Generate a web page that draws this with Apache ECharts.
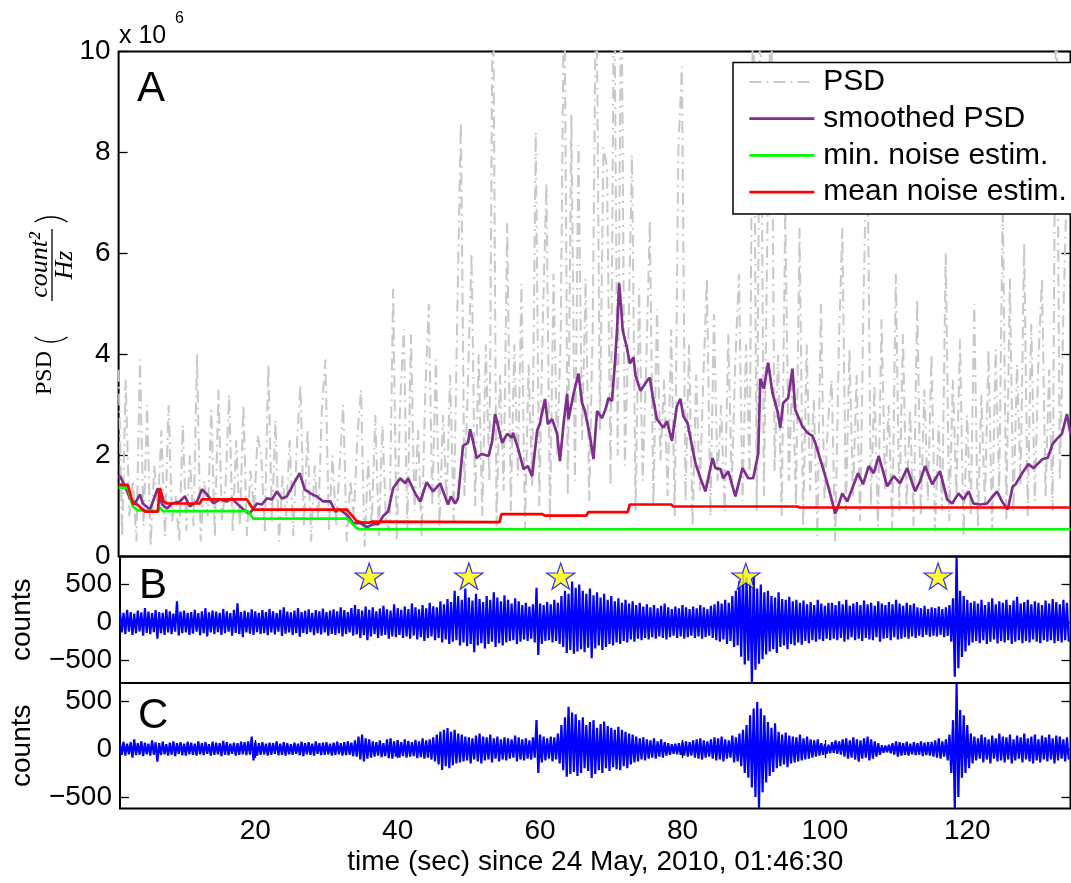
<!DOCTYPE html>
<html><head><meta charset="utf-8">
<script src="https://cdn.jsdelivr.net/npm/echarts@6/dist/echarts.min.js"></script>
<style>html,body{margin:0;padding:0;background:#fff}#c{width:1071px;height:883px}</style>
</head><body><div id="c"></div>
<script>
// ---------- DATA ----------
const xTicks = [20, 40, 60, 80, 100, 120];
const psdTicks = [0, 2, 4, 6, 8, 10];
const traceTicks = [-500, 0, 500];
const gridT0 = 1, gridDT = 0.5; // sampling grid of the PSD and trace arrays (sec)

// raw PSD (x 1e6 count^2/Hz)
const psd = [
3.7,0.4,3.5,0.8,1.5,0.3,3.9,0.6,3.0,0.2,1.8,0.9,2.5,0.4,3.0,0.7,1.2,0.3,2.6,0.5,
2.0,0.6,4.0,0.3,1.5,0.8,2.9,0.4,3.3,0.7,1.4,3.2,0.5,2.3,0.6,3.0,0.4,1.7,0.9,2.4,
2.0,0.5,3.8,0.7,2.7,0.3,1.6,0.8,2.3,0.4,2.2,3.4,0.6,2.5,0.3,1.8,0.7,2.9,3.9,0.5,
2.0,0.6,1.8,3.0,0.3,1.5,0.8,2.4,3.3,0.2,1.9,0.6,2.8,0.4,2.6,0.7,0.5,5.3,0.3,3.1,
4.5,0.5,4.4,0.9,2.5,0.4,3.2,5.0,1.0,3.9,0.6,2.8,1.1,3.6,0.7,4.8,8.6,1.2,3.5,6.0,
1.0,4.0,0.8,4.2,1.5,12,0.6,3.6,1.3,6.6,0.9,4.2,1.6,5.4,0.5,3.8,1.4,8.4,1.0,4.7,
7.4,0.7,5.6,2.0,4.3,12,1.2,8.75,1.5,8.15,2.3,5.5,1.1,4.6,12,2.5,8.1,7.7,1.4,12,
2.0,12,1.8,4.4,7.95,0.9,5.3,1.5,3.8,6.66,1.0,4.9,1.9,3.5,1.2,4.5,0.8,8.05,9.7,1.1,
4.2,0.6,3.6,1.3,3.5,5.5,0.8,4.8,1.5,3.0,0.9,4.4,1.4,3.9,5.6,1.1,4.2,1.6,12,0.9,
12,1.2,6.5,12,1.7,4.0,0.8,6.9,1.5,3.7,1.0,6.5,0.6,4.2,1.3,3.1,0.4,5.0,1.1,2.7,
3.5,0.3,4.1,6.5,0.9,4.1,1.2,3.6,0.7,5.3,8.6,1.0,3.4,0.6,4.7,1.3,3.0,0.5,5.6,0.9,
4.4,1.0,2.9,0.6,5.1,0.8,3.3,1.1,4.0,0.5,2.6,0.9,6.0,0.7,3.5,1.2,4.3,0.4,2.8,0.8,
5.0,0.6,3.2,1.0,4.1,0.5,4.1,1.3,7.0,0.7,5.5,0.9,3.8,1.4,6.2,0.8,4.6,1.1,3.9,5.5,
1.2,3.7,0.9,12,1.5,4.8,7.5];

// smoothed PSD (x 1e6)
const smoothT = [1.0,1.2,1.9,2.6,3.3,4.0,4.4,5.4,6.5,7.1,7.8,8.5,9.6,10.3,11.0,12.0,12.7,13.4,14.3,15.2,16.2,16.9,17.6,18.5,19.4,20.4,21.1,21.8,22.5,23.2,23.9,24.6,25.5,26.4,27.1,27.9,28.8,29.7,30.7,31.4,32.0,33.0,33.9,34.9,35.8,36.7,37.4,38.1,38.8,39.5,40.5,41.2,41.6,42.6,43.3,44.2,45.1,46.1,47.2,47.6,48.2,48.6,49.3,50.0,50.3,50.7,51.2,51.9,52.9,53.4,53.8,54.8,55.5,56.2,56.3,57.0,57.8,58.4,59.0,59.7,60.1,60.8,61.2,61.8,62.5,62.9,63.4,63.9,64.1,64.8,65.5,66.0,66.4,67.1,67.6,68.1,68.8,69.3,69.7,70.2,70.6,70.9,71.2,71.5,71.7,72.3,72.7,73.2,73.5,74.2,75.1,75.5,75.9,76.5,77.4,77.9,78.6,79.3,79.8,80.2,80.8,81.5,81.9,82.6,83.3,84.3,84.7,85.4,85.8,86.5,87.5,88.5,89.3,90.0,90.7,91.0,91.5,92.1,92.7,93.4,93.8,94.2,94.9,95.5,95.9,96.9,97.6,98.3,98.7,99.7,100.6,101.5,101.8,102.5,103.2,103.9,104.7,105.4,106.2,106.9,107.6,108.8,109.7,110.6,111.6,112.7,113.4,114.1,115.1,116.2,117.2,117.9,118.8,119.5,120.2,120.9,121.9,122.8,124.2,124.9,125.7,126.4,126.8,127.9,128.6,129.3,130.6,131.3,132.0,132.6,133.3,134.0,134.5];
const smoothV = [1.55,1.59,1.39,1.15,1.05,1.23,1.05,0.93,1.35,1.03,0.95,1.05,1.09,1.19,0.99,1.09,1.33,1.23,1.05,1.13,1.09,1.15,1.05,0.93,0.85,1.05,1.03,1.15,1.13,1.29,1.15,1.19,1.43,1.65,1.33,1.25,1.19,1.09,1.09,0.89,0.93,0.83,0.66,0.66,0.58,0.64,0.64,0.80,0.89,1.35,1.55,1.45,1.55,1.25,1.09,1.47,1.29,1.45,1.03,1.19,1.05,1.15,2.19,2.25,2.52,2.29,1.95,2.03,1.99,2.29,2.82,2.25,2.43,2.35,2.45,2.15,1.73,1.79,1.59,2.49,2.64,3.12,2.62,2.72,2.43,1.89,2.62,3.22,2.72,3.22,3.62,3.04,2.88,2.39,1.93,2.88,2.74,2.92,3.14,3.08,3.82,4.47,5.41,4.90,4.47,4.13,3.82,3.94,3.58,3.28,3.48,3.54,3.18,2.72,2.55,2.68,2.29,2.98,3.12,2.78,2.64,2.13,1.85,1.55,1.29,1.95,1.75,1.73,1.55,1.69,1.19,1.75,1.55,1.55,2.03,3.52,3.32,3.84,3.24,2.88,2.55,3.04,3.14,3.72,2.90,2.58,2.45,2.39,2.25,1.79,1.35,0.85,0.95,1.25,1.09,1.35,1.65,1.43,1.79,1.65,1.99,1.39,1.59,1.45,1.75,1.29,1.49,1.79,1.43,1.69,1.13,1.05,1.25,1.13,1.29,1.05,1.03,1.05,1.29,1.09,0.93,1.39,1.43,1.69,1.83,1.75,1.93,1.95,2.23,2.33,2.43,2.82,2.43];

// minimum noise estimate (x 1e6)
const minNoiseT = [1.0,2.3,3.0,3.6,6.5,6.8,7.2,19.1,19.9,33.1,34.4,34.8,134.5];
const minNoiseV = [1.37,1.36,0.99,0.92,0.90,0.97,0.90,0.90,0.75,0.75,0.56,0.54,0.54];

// mean noise estimate (x 1e6)
const meanNoiseT = [1.0,2.3,3.0,3.6,4.7,6.5,6.8,7.3,7.8,12.4,12.7,19.0,19.9,33.0,34.4,35.2,36.2,36.5,54.4,54.7,60.4,60.8,66.6,66.9,72.4,72.7,78.5,78.8,96.2,96.5,134.5];
const meanNoiseV = [1.42,1.42,1.05,1.03,0.89,0.89,1.36,1.09,1.05,1.05,1.13,1.13,0.93,0.93,0.70,0.67,0.67,0.69,0.68,0.84,0.84,0.81,0.81,0.88,0.88,1.03,1.03,0.99,0.99,0.97,0.97];

// trace B (raw): positive / negative excursions per half second
const bMax = [
150,130,170,140,120,160,135,190,145,125,165,140,130,175,150,120,280,145,160,130,
140,170,125,150,190,135,160,145,130,180,150,125,170,255,140,160,135,175,150,130,
165,140,180,150,125,170,200,145,135,160,190,140,155,175,130,165,150,185,140,160,
175,150,200,165,140,190,230,180,160,210,170,200,150,185,220,175,160,240,190,170,
210,180,250,200,175,230,190,260,215,200,280,240,310,270,420,350,300,450,330,290,
380,310,270,350,300,400,330,280,360,300,250,320,280,230,260,210,240,460,250,230,
270,240,300,260,350,420,380,540,460,500,420,380,450,360,400,330,380,300,350,280,
320,260,300,250,280,230,260,210,240,200,230,190,220,250,200,180,210,190,230,200,
180,210,190,230,200,180,220,240,280,250,300,260,350,420,550,656,600,520,620,450,
500,400,420,350,330,400,310,300,340,280,300,260,290,240,270,230,300,250,220,260,
260,230,280,240,300,220,250,270,230,290,240,260,220,280,250,230,270,240,300,250,
220,260,230,250,200,190,220,180,200,190,210,180,200,230,320,870,420,350,300,260,
280,250,300,230,270,320,240,280,260,300,230,290,340,250,270,300,240,280,260,230,
290,250,310,270,240,300,260];
const bMin = [
-130,-150,-120,-160,-140,-115,-170,-135,-150,-125,-210,-140,-160,-130,-150,-120,-170,-140,-130,-160,
-145,-120,-165,-140,-180,-130,-150,-125,-160,-140,-120,-170,-135,-150,-190,-130,-145,-160,-125,-150,
-140,-165,-130,-155,-120,-175,-145,-130,-160,-140,-185,-135,-150,-125,-165,-140,-155,-130,-170,-150,
-160,-140,-180,-150,-130,-170,-155,-200,-165,-230,-180,-150,-200,-170,-160,-210,-180,-190,-160,-200,
-180,-210,-170,-220,-190,-240,-200,-180,-230,-200,-260,-220,-280,-250,-230,-300,-260,-310,-280,-390,
-300,-270,-340,-280,-250,-320,-270,-300,-260,-240,-230,-280,-250,-220,-240,-210,-260,-425,-280,-240,
-230,-260,-240,-280,-320,-400,-360,-410,-380,-350,-390,-330,-467,-340,-300,-360,-320,-280,-300,-260,
-280,-240,-260,-220,-250,-210,-230,-200,-220,-190,-210,-180,-200,-220,-190,-170,-200,-180,-210,-190,
-170,-200,-180,-210,-190,-170,-200,-230,-250,-220,-280,-240,-320,-300,-450,-550,-500,-790,-620,-540,
-480,-420,-380,-350,-400,-320,-300,-350,-280,-300,-260,-290,-240,-270,-230,-250,-220,-240,-210,-230,
-210,-230,-200,-250,-220,-190,-230,-210,-240,-200,-220,-230,-190,-250,-210,-200,-230,-190,-220,-210,
-190,-210,-180,-200,-170,-190,-160,-185,-170,-180,-160,-190,-175,-250,-712,-600,-450,-380,-300,-260,
-240,-270,-230,-280,-250,-220,-273,-240,-260,-230,-280,-250,-230,-270,-240,-260,-220,-250,-270,-230,
-250,-230,-270,-240,-260,-230,-250];

// trace C (filtered)
const cMax = [
60,75,55,70,100,60,80,65,55,90,70,60,75,50,65,80,60,70,55,75,
65,55,80,60,70,50,75,65,60,85,70,55,65,60,75,70,80,128,70,60,
70,55,65,60,80,55,70,60,50,65,55,75,60,70,55,80,60,65,70,55,
65,75,60,70,80,65,90,130,150,110,100,80,70,90,60,100,110,80,90,70,
100,85,70,95,80,110,90,100,120,150,180,200,218,180,200,160,150,130,120,110,
140,160,130,120,150,110,130,100,120,110,100,140,120,100,110,90,120,302,150,130,
110,130,120,160,250,330,440,380,360,300,330,250,280,300,220,260,285,240,220,200,
230,200,180,160,150,130,110,120,100,90,110,80,100,70,60,50,55,60,70,80,
70,90,100,110,90,80,100,120,110,130,100,90,140,120,160,200,250,350,420,490,
420,350,280,220,267,180,150,170,140,130,120,150,110,130,100,90,100,60,50,45,
70,90,80,100,110,90,120,100,90,110,130,100,80,60,40,35,45,60,80,70,
60,75,55,70,60,80,65,70,75,90,110,80,100,150,300,684,406,350,250,160,
130,110,150,120,100,140,110,160,130,120,150,100,140,120,160,110,130,150,100,140,
120,150,110,140,130,100,120];
const cMin = [
-60,-70,-55,-90,-65,-60,-75,-55,-70,-60,-132,-65,-55,-70,-60,-75,-50,-65,-70,-55,
-60,-70,-55,-65,-50,-70,-60,-55,-75,-60,-65,-50,-70,-60,-55,-65,-60,-120,-70,-60,
-55,-70,-60,-50,-65,-60,-70,-55,-60,-50,-65,-75,-55,-60,-70,-50,-65,-60,-55,-70,
-60,-55,-70,-65,-60,-75,-80,-110,-130,-100,-90,-80,-70,-85,-75,-95,-100,-80,-90,-75,
-90,-80,-75,-95,-85,-100,-90,-110,-130,-160,-219,-180,-200,-170,-150,-140,-130,-120,-150,-110,
-130,-150,-120,-110,-140,-100,-130,-110,-120,-100,-90,-130,-110,-120,-100,-110,-90,-250,-140,-120,
-100,-130,-110,-150,-220,-288,-260,-240,-280,-250,-200,-230,-302,-260,-220,-250,-200,-230,-190,-210,
-220,-180,-200,-160,-140,-130,-110,-120,-100,-90,-100,-80,-90,-70,-60,-50,-55,-60,-70,-80,
-70,-90,-100,-110,-90,-80,-100,-120,-110,-130,-100,-90,-140,-130,-180,-250,-300,-400,-500,-618,
-450,-350,-280,-240,-200,-180,-160,-190,-150,-140,-130,-120,-110,-100,-90,-80,-70,-60,-50,-45,
-40,-50,-60,-80,-100,-90,-110,-132,-100,-90,-120,-100,-80,-60,-40,-35,-45,-60,-80,-70,
-60,-70,-55,-65,-60,-75,-65,-70,-80,-90,-100,-80,-120,-250,-618,-500,-300,-250,-200,-150,
-120,-100,-140,-110,-150,-100,-130,-120,-140,-110,-150,-120,-100,-140,-110,-130,-150,-120,-140,-110,
-130,-110,-150,-120,-100,-130,-110];

// detected events (stars on trace B)
const starT = [36.0, 50.0, 62.9, 88.9, 115.9];
const starV = [612, 612, 612, 612, 612];

// legend entries
const legendNames = ['PSD', 'smoothed PSD', 'min. noise estim.', 'mean noise estim.'];

// ---------- BUILD ----------
const FONT = '"Liberation Sans", Arial, sans-serif';
const SERIF = '"Liberation Serif", "DejaVu Serif", serif';
const COLORS = {psd: '#C8C8C8', smooth: '#7E2F8E', min: '#00FF00', mean: '#FF0000', trace: '#0000FF'};
const LW = 2.7;
const pairs = (ts, vs) => ts.map((t, i) => [t, vs[i]]);
const gridSeries = vs => vs.map((v, i) => [gridT0 + gridDT * i, v]);
function zig(maxA, minA) {
  const out = [];
  for (let i = 0; i < maxA.length; i++) {
    const t = gridT0 + gridDT * i;
    out.push([t, maxA[i]]);
    out.push([t + gridDT / 2, minA[i]]);
  }
  return out;
}
const fmtMinus = v => (v < 0 ? '\u2212' + Math.abs(v) : String(v));
const XMIN = 1, XMAX = 134.5;
const L = 118.6, W = 951.9;

const tickStyle = {show: true, inside: true, length: 9, lineStyle: {color: '#000', width: 1.3}};
const labStyle = {color: '#000', fontFamily: FONT, fontSize: 28};

function xAx(grid, opts) {
  return Object.assign({
    type: 'value', gridIndex: grid, min: XMIN, max: XMAX,
    axisLine: {show: false}, splitLine: {show: false},
    axisTick: {show: false}, axisLabel: {show: false}
  }, opts);
}
function yAx(grid, min, max, ticks, pos, showLab, extra) {
  return Object.assign({
    type: 'value', gridIndex: grid, min: min, max: max, position: pos,
    axisLine: {show: false}, splitLine: {show: false},
    axisTick: Object.assign({customValues: ticks}, tickStyle),
    axisLabel: showLab ? Object.assign({customValues: ticks, margin: 8, formatter: fmtMinus}, labStyle) : {show: false}
  }, extra || {});
}
const gridBox = {show: true, borderColor: '#000', borderWidth: 2, backgroundColor: 'transparent'};
const nameStyle = {color: '#000', fontFamily: FONT, fontSize: 28};

// rotated LaTeX-like y label of panel A: PSD (count^2 / Hz)
const pr = 29.7, pa = 0.589;
const yLabelA = {type: 'group', x: 45, y: 304, rotation: Math.PI / 2, z: 10, children: [
  {type: 'text', x: -91, y: 0, style: {text: 'PSD', fontFamily: SERIF, fontSize: 24, fill: '#000', align: 'left', verticalAlign: 'middle'}},
  {type: 'arc', shape: {cx: -38 + pr, cy: 6, r: pr, startAngle: Math.PI - pa, endAngle: Math.PI + pa, clockwise: true}, style: {stroke: '#000', lineWidth: 1.4, fill: 'none'}},
  {type: 'text', x: 39, y: -5, style: {text: 'count\u00B2', fontFamily: SERIF, fontStyle: 'italic', fontSize: 26, fill: '#000', align: 'center', verticalAlign: 'middle'}},
  {type: 'line', shape: {x1: 3, y1: 7, x2: 75, y2: 7}, style: {stroke: '#000', lineWidth: 1.3}},
  {type: 'text', x: 39, y: 20, style: {text: 'Hz', fontFamily: SERIF, fontStyle: 'italic', fontSize: 26, fill: '#000', align: 'center', verticalAlign: 'middle'}},
  {type: 'arc', shape: {cx: 87 - pr, cy: 6, r: pr, startAngle: -pa, endAngle: pa, clockwise: true}, style: {stroke: '#000', lineWidth: 1.4, fill: 'none'}}
]};

const option = {
  animation: false,
  backgroundColor: '#fff',
  textStyle: {fontFamily: FONT},
  grid: [
    Object.assign({left: L, top: 51.5, width: W, height: 505}, gridBox),
    Object.assign({left: L, top: 556.5, width: W, height: 126.5}, gridBox),
    Object.assign({left: L, top: 683, width: W, height: 125.5}, gridBox)
  ],
  xAxis: [
    xAx(0, {}),
    xAx(1, {}),
    xAx(2, {
      axisTick: Object.assign({customValues: xTicks}, tickStyle),
      axisLabel: Object.assign({customValues: xTicks, margin: 9}, labStyle),
      name: 'time (sec) since 24 May, 2010, 01:46:30', nameLocation: 'middle', nameGap: 40,
      nameTextStyle: nameStyle
    }),
    xAx(2, {position: 'top', axisTick: Object.assign({customValues: xTicks}, tickStyle)})
  ],
  yAxis: [
    yAx(0, 0, 10, psdTicks, 'left', true),
    yAx(0, 0, 10, psdTicks, 'right', false),
    yAx(1, -794, 870, traceTicks, 'left', true, {name: 'counts', nameLocation: 'middle', nameGap: 84, nameRotate: 90, nameTextStyle: nameStyle}),
    yAx(1, -794, 870, traceTicks, 'right', false),
    yAx(2, -620, 687, traceTicks, 'left', true, {name: 'counts', nameLocation: 'middle', nameGap: 84, nameRotate: 90, nameTextStyle: nameStyle}),
    yAx(2, -620, 687, traceTicks, 'right', false)
  ],
  legend: {
    orient: 'vertical', left: 733, top: 62.5,
    padding: [4.5, 11, 7, 15], itemGap: 6.7, itemWidth: 65, itemHeight: 14,
    borderColor: '#000', borderWidth: 1.5, backgroundColor: '#fff',
    selectedMode: false,
    lineStyle: {width: LW},
    itemStyle: {color: 'rgba(0,0,0,0)', borderColor: 'rgba(0,0,0,0)', borderWidth: 0, opacity: 0},
    textStyle: {color: '#000', fontFamily: FONT, fontSize: 30, lineHeight: 30, padding: [0, 0, 0, 4]},
    data: [
      {name: legendNames[0], lineStyle: {color: COLORS.psd, width: 2, type: [12, 5, 2, 5]}},
      {name: legendNames[1], lineStyle: {color: COLORS.smooth, width: LW}},
      {name: legendNames[2], lineStyle: {color: COLORS.min, width: LW}},
      {name: legendNames[3], lineStyle: {color: COLORS.mean, width: LW}}
    ]
  },
  series: [
    {name: legendNames[0], type: 'line', xAxisIndex: 0, yAxisIndex: 0, data: gridSeries(psd), symbol: 'none', showSymbol: false,
     lineStyle: {color: COLORS.psd, width: 2, type: [12, 5, 2, 5]}, itemStyle: {color: COLORS.psd}, z: 2},
    {name: legendNames[1], type: 'line', xAxisIndex: 0, yAxisIndex: 0, data: pairs(smoothT, smoothV), symbol: 'none', showSymbol: false,
     lineStyle: {color: COLORS.smooth, width: LW}, itemStyle: {color: COLORS.smooth}, z: 3},
    {name: legendNames[2], type: 'line', xAxisIndex: 0, yAxisIndex: 0, data: pairs(minNoiseT, minNoiseV), symbol: 'none', showSymbol: false,
     lineStyle: {color: COLORS.min, width: LW}, itemStyle: {color: COLORS.min}, z: 4},
    {name: legendNames[3], type: 'line', xAxisIndex: 0, yAxisIndex: 0, data: pairs(meanNoiseT, meanNoiseV), symbol: 'none', showSymbol: false,
     lineStyle: {color: COLORS.mean, width: LW}, itemStyle: {color: COLORS.mean}, z: 5},
    {name: 'trace B', type: 'line', xAxisIndex: 1, yAxisIndex: 2, data: zig(bMax, bMin), symbol: 'none', showSymbol: false,
     lineStyle: {color: COLORS.trace, width: 2.2, join: 'bevel'}, z: 3},
    {name: 'events', type: 'scatter', xAxisIndex: 1, yAxisIndex: 2, data: pairs(starT, starV),
     symbol: 'path://M50,0 L61.2,34.5 L97.6,34.5 L68.2,55.9 L79.4,90.5 L50,69.1 L20.6,90.5 L31.8,55.9 L2.4,34.5 L38.8,34.5 Z',
     symbolSize: [28, 26], itemStyle: {color: '#FFFF00', borderColor: COLORS.trace, borderWidth: 1.2}, z: 6},
    {name: 'trace C', type: 'line', xAxisIndex: 2, yAxisIndex: 4, data: zig(cMax, cMin), symbol: 'none', showSymbol: false,
     lineStyle: {color: COLORS.trace, width: 2.2, join: 'bevel'}, z: 3}
  ],
  graphic: [
    {type: 'text', x: 137, y: 89, style: {text: 'A', fontFamily: FONT, fontSize: 42, fill: '#000', align: 'left', verticalAlign: 'middle'}, z: 10},
    {type: 'text', x: 139, y: 586, style: {text: 'B', fontFamily: FONT, fontSize: 42, fill: '#000', align: 'left', verticalAlign: 'middle'}, z: 10},
    {type: 'text', x: 138, y: 716, style: {text: 'C', fontFamily: FONT, fontSize: 42, fill: '#000', align: 'left', verticalAlign: 'middle'}, z: 10},
    {type: 'text', x: 119, y: 36, style: {text: 'x 10', fontFamily: FONT, fontSize: 25, fill: '#000', align: 'left', verticalAlign: 'middle'}, z: 10},
    {type: 'text', x: 175, y: 19, style: {text: '6', fontFamily: FONT, fontSize: 16, fill: '#000', align: 'left', verticalAlign: 'middle'}, z: 10},
    yLabelA
  ]
};
const chart = echarts.init(document.getElementById('c'), null, {renderer: 'canvas'});
chart.setOption(option);
</script></body></html>
